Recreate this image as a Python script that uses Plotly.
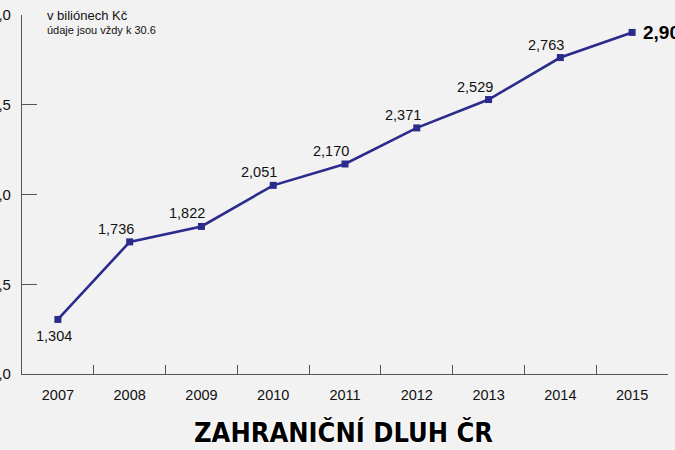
import plotly.graph_objects as go

years = ["2007", "2008", "2009", "2010", "2011", "2012", "2013", "2014", "2015"]
debt = [1.304, 1.736, 1.822, 2.051, 2.170, 2.371, 2.529, 2.763, 2.903]
labels = ["1,304", "1,736", "1,822", "2,051", "2,170", "2,371", "2,529", "2,763", "2,903"]
y_ticks = [1.0, 1.5, 2.0, 2.5, 3.0]
y_ticktext = ["1,0", "1,5", "2,0", "2,5", "3,0"]

line_color = "#2b2b8c"
axis_color = "#555555"
font_family = "Liberation Sans, Arial"

fig = go.Figure()
fig.add_trace(go.Scatter(
    x=years, y=debt, mode="lines+markers",
    line=dict(color=line_color, width=2.6),
    marker=dict(symbol="square", size=7, color=line_color),
    hoverinfo="skip", showlegend=False, cliponaxis=False,
))

annotations = []
for i, (v, lab) in enumerate(zip(debt, labels)):
    if i == 0:
        annotations.append(dict(x=i, y=v, text=lab, showarrow=False,
                                xshift=-4, yshift=-17,
                                font=dict(family=font_family, size=14.5, color="#111")))
    elif i == len(debt) - 1:
        annotations.append(dict(x=i, y=v, text="<b>" + lab + "</b>", showarrow=False,
                                xanchor="left", xshift=9, yshift=0,
                                font=dict(family=font_family, size=19, color="#000")))
    else:
        annotations.append(dict(x=i, y=v, text=lab, showarrow=False,
                                xshift=-14, yshift=13,
                                font=dict(family=font_family, size=14.5, color="#111")))

annotations.append(dict(xref="paper", yref="paper", x=0.036, y=1.0, xanchor="left", yanchor="middle",
                        text="v biliónech Kč", showarrow=False,
                        font=dict(family=font_family, size=13, color="#111")))
annotations.append(dict(xref="paper", yref="paper", x=0.036, y=0.957, xanchor="left", yanchor="middle",
                        text="údaje jsou vždy k 30.6", showarrow=False,
                        font=dict(family=font_family, size=11, color="#111")))
annotations.append(dict(xref="paper", yref="paper", x=0.497, y=-0.162, xanchor="center", yanchor="middle",
                        text="<b>ZAHRANIČNÍ DLUH ČR</b>", showarrow=False,
                        font=dict(family="DejaVu Sans Condensed, DejaVu Sans", size=27, color="#000",
                                  shadow="0 0 3px white, 0 0 3px white, 0 0 2px white")))

fig.update_layout(
    width=675, height=450,
    margin=dict(l=22, r=7, t=15, b=76),
    paper_bgcolor="#f2f2f2", plot_bgcolor="rgba(0,0,0,0)",
    annotations=annotations,
    xaxis=dict(
        type="category", range=[-0.5, 8.5], tickson="boundaries",
        ticks="inside", ticklen=9, tickcolor=axis_color, tickwidth=1,
        showline=True, linecolor=axis_color, linewidth=1.2,
        showgrid=False, zeroline=False, automargin=False,
        tickfont=dict(family=font_family, size=14.5, color="#111"),
        ticklabelstandoff=7,
    ),
    yaxis=dict(
        range=[1.0, 3.0], tickvals=y_ticks, ticktext=y_ticktext,
        ticks="inside", ticklen=15, tickcolor=axis_color, tickwidth=1,
        showline=True, linecolor=axis_color, linewidth=1.2,
        showgrid=False, zeroline=False, automargin=False,
        tickfont=dict(family=font_family, size=15, color="#111"),
        ticklabelstandoff=7,
    ),
)

fig.write_html("out.html", config={"displayModeBar": False},
               post_script="document.body.style.margin='0';document.body.style.overflow='hidden';")
